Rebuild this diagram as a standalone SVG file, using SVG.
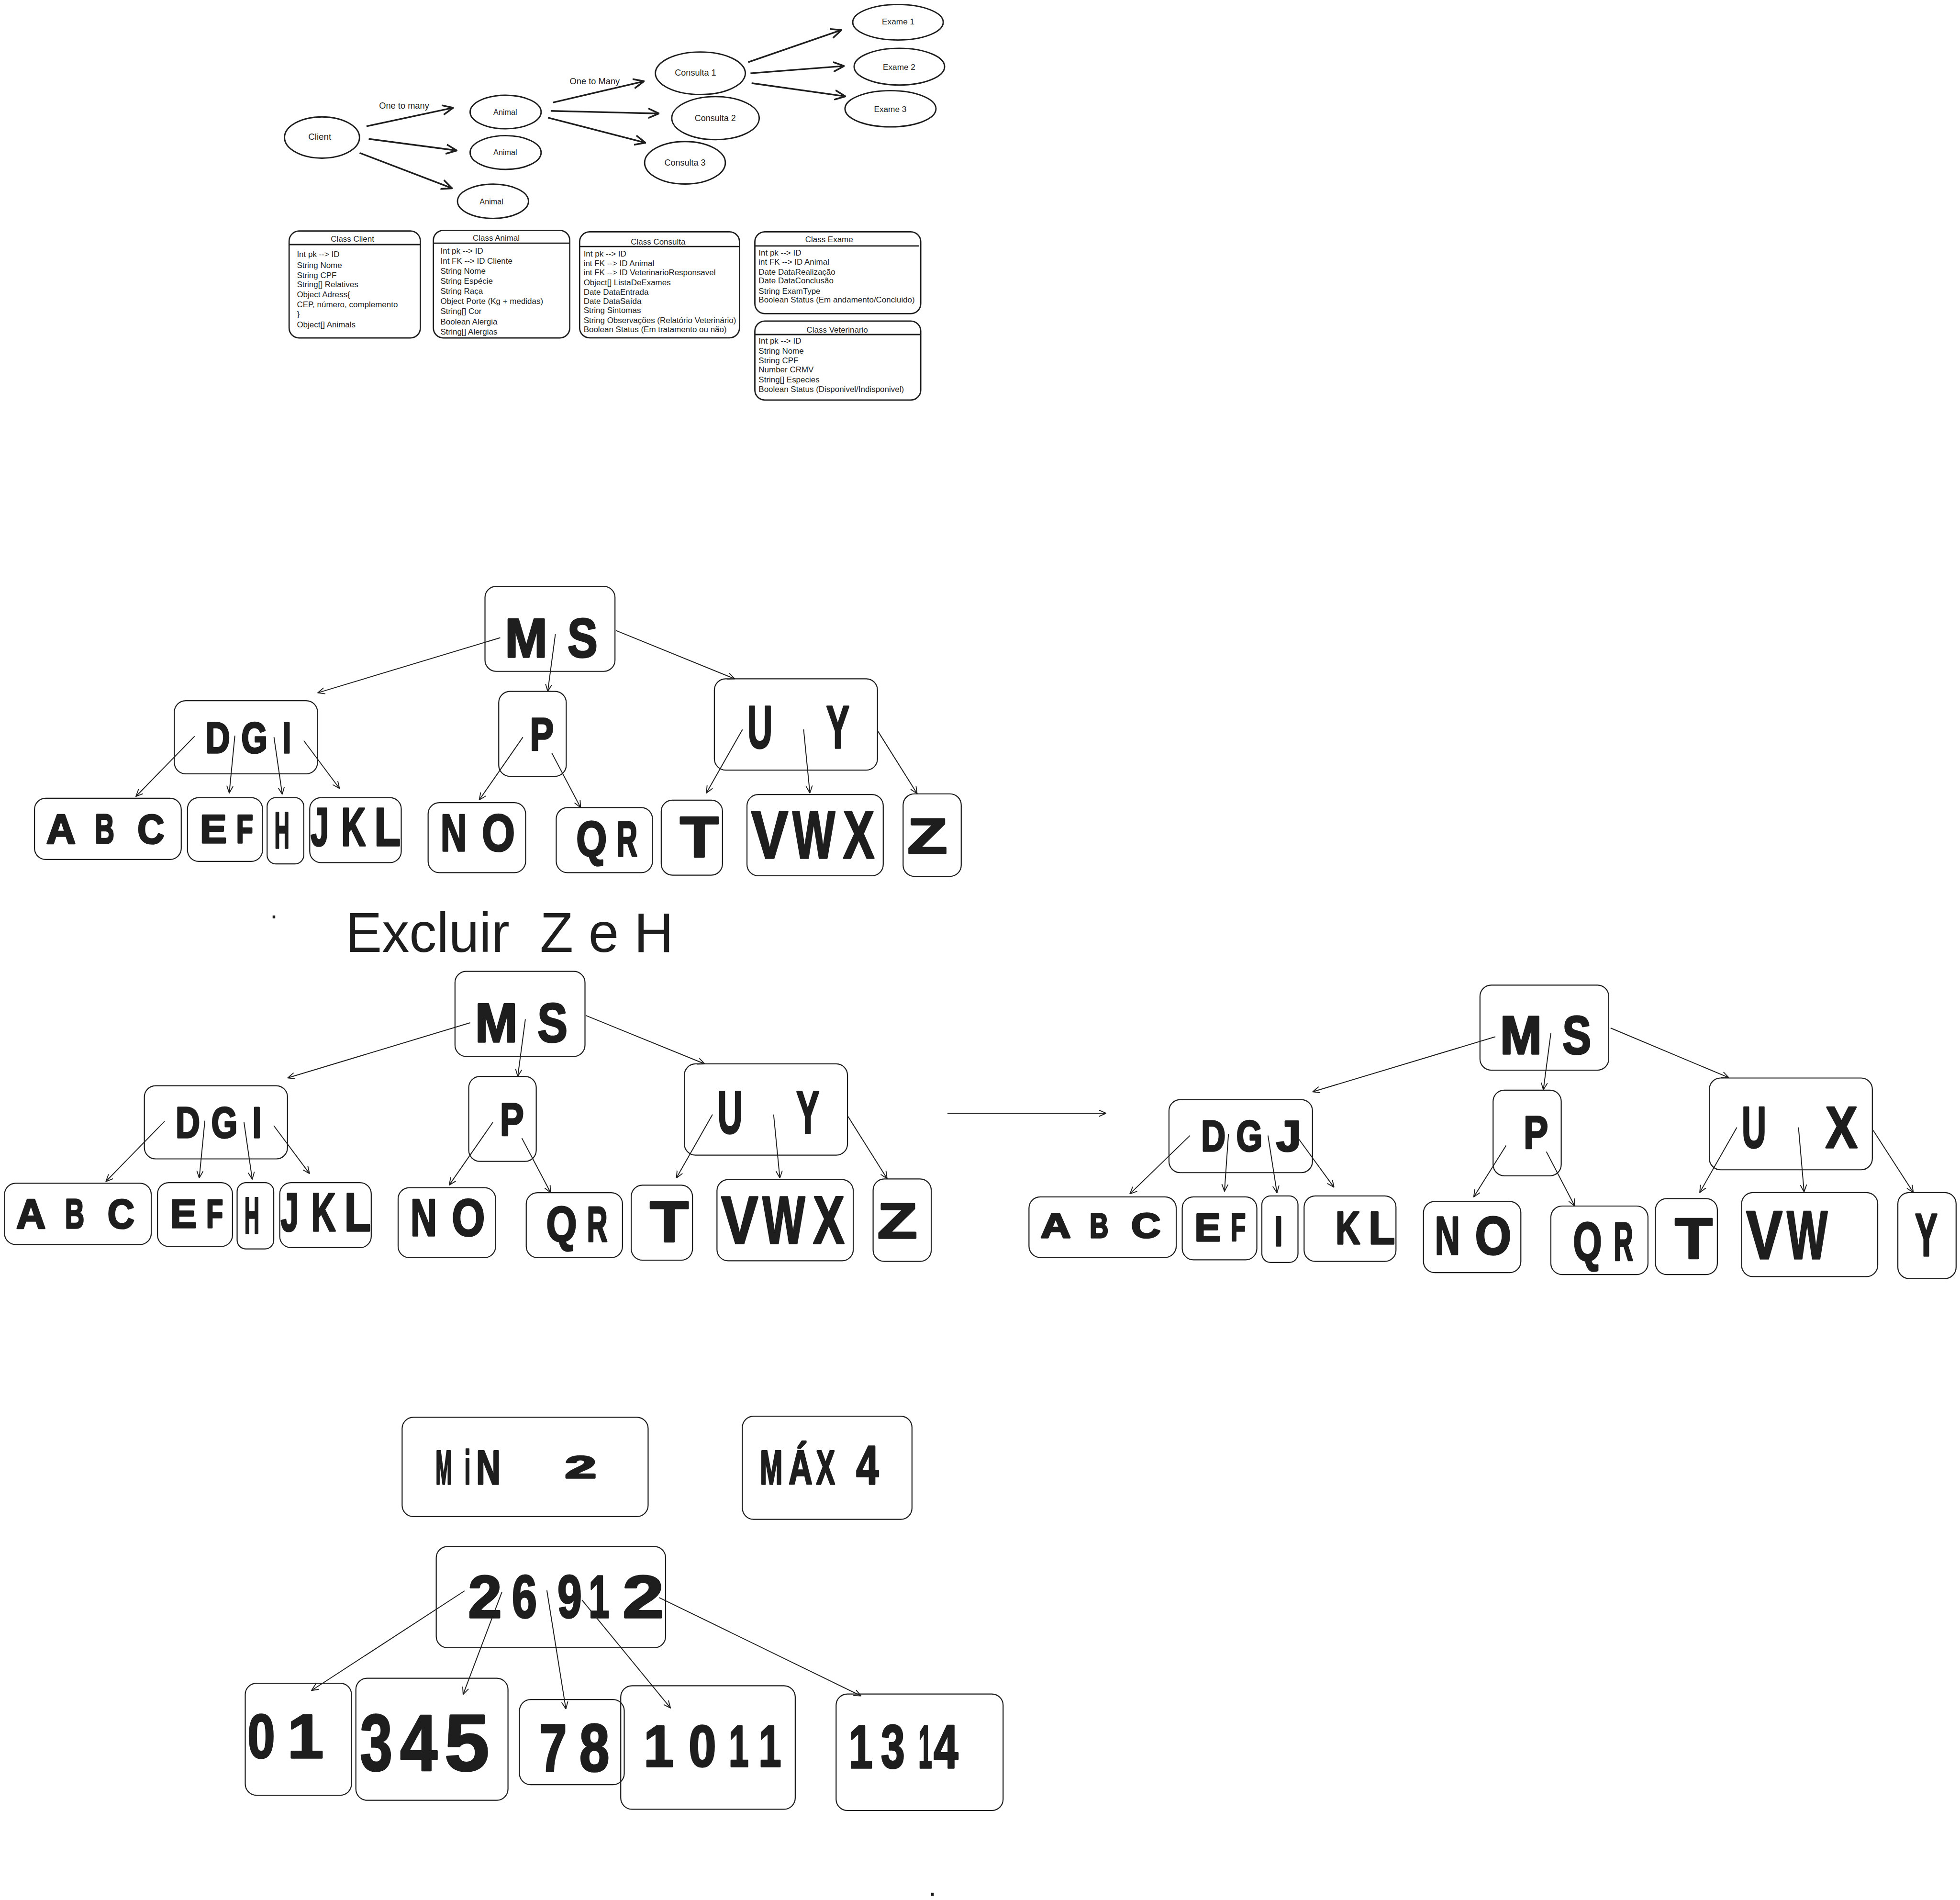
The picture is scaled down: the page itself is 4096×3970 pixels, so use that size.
<svg xmlns="http://www.w3.org/2000/svg" width="4096" height="3970" viewBox="0 0 4096 3970">
<style>
.box{fill:none;stroke:#1e1e1e;stroke-width:0.85}
.ell{fill:none;stroke:#1e1e1e;stroke-width:1.1}
.cbox{fill:none;stroke:#1e1e1e;stroke-width:1.05}
.hl{stroke:#1e1e1e;stroke-width:1.1}
.cn{fill:none;stroke:#1e1e1e;stroke-width:0.75;marker-end:url(#ah)}
.cnb{fill:none;stroke:#1e1e1e;stroke-width:1.3;marker-end:url(#ahb)}
.hw{font-family:'Liberation Sans',Arial,sans-serif;font-weight:700;fill:#1e1e1e;stroke:#1e1e1e;stroke-width:1.4;stroke-linejoin:round}
.ct{font-family:'Liberation Sans',Arial,sans-serif;font-size:6.5px;fill:#1e1e1e}
.tt{font-family:'Liberation Sans',Arial,sans-serif;font-size:6.5px;fill:#1e1e1e;text-anchor:middle}
.gl{font-family:'Liberation Sans',Arial,sans-serif;fill:#1e1e1e;text-anchor:middle}
</style>
<defs>
<marker id="ah" viewBox="0 0 10 10" refX="9.5" refY="5" markerWidth="6" markerHeight="6" orient="auto" markerUnits="userSpaceOnUse"><path d="M0.5,1 L9.5,5 L0.5,9" fill="none" stroke="#1e1e1e" stroke-width="1.2" stroke-linecap="round" stroke-linejoin="round"/></marker>
<marker id="ahb" viewBox="0 0 10 10" refX="9.5" refY="5" markerWidth="9" markerHeight="9" orient="auto" markerUnits="userSpaceOnUse"><path d="M0.5,1 L9.5,5 L0.5,9" fill="none" stroke="#1e1e1e" stroke-width="1.5" stroke-linecap="round" stroke-linejoin="round"/></marker>
</defs>
<rect width="4096" height="3970" fill="#ffffff"/>
<g transform="scale(2.6122)">

<!-- Top graph -->
<g id="top-connectors">
<line class="cnb" x1="293.2" y1="101" x2="362.6" y2="86.2"/>
<line class="cnb" x1="295" y1="111.1" x2="365.4" y2="120.4"/>
<line class="cnb" x1="287.7" y1="122.3" x2="361.7" y2="150.6"/>
<line class="cnb" x1="442.5" y1="82" x2="515.2" y2="65"/>
<line class="cnb" x1="440.6" y1="88.7" x2="527.2" y2="90.8"/>
<line class="cnb" x1="438.4" y1="94.1" x2="516.4" y2="114.2"/>
<line class="cnb" x1="598.6" y1="49.7" x2="673.2" y2="24"/>
<line class="cnb" x1="600.4" y1="58.6" x2="675.3" y2="52.8"/>
<line class="cnb" x1="601.3" y1="66.5" x2="676.4" y2="77.1"/>
<text class="gl" font-size="7" x="323.3" y="87">One to many</text>
<text class="gl" font-size="7" x="475.8" y="67.5">One to Many</text>
</g>
<g id="client"><ellipse class="ell" cx="257.6" cy="110" rx="30" ry="16.5"/><text class="gl" font-size="7.2" x="255.8" y="111.8">Client</text></g>
<g id="animal1"><ellipse class="ell" cx="404.5" cy="89.6" rx="28.4" ry="13.4"/><text class="gl" font-size="6.2" x="404.2" y="92">Animal</text></g>
<g id="animal2"><ellipse class="ell" cx="404.5" cy="122" rx="28.4" ry="13.5"/><text class="gl" font-size="6.2" x="404.2" y="124">Animal</text></g>
<g id="animal3"><ellipse class="ell" cx="394.4" cy="161" rx="28.4" ry="13.7"/><text class="gl" font-size="6.2" x="393.2" y="163.3">Animal</text></g>
<g id="consulta1"><ellipse class="ell" cx="560.3" cy="58.6" rx="36" ry="17"/><text class="gl" font-size="6.9" x="556.4" y="60.5">Consulta 1</text></g>
<g id="consulta2"><ellipse class="ell" cx="572.4" cy="94.5" rx="35" ry="17.2"/><text class="gl" font-size="6.9" x="572.2" y="97">Consulta 2</text></g>
<g id="consulta3"><ellipse class="ell" cx="548" cy="130.2" rx="32.3" ry="17"/><text class="gl" font-size="6.9" x="548" y="132.3">Consulta 3</text></g>
<g id="exame1"><ellipse class="ell" cx="718.4" cy="17.8" rx="36.2" ry="14.2"/><text class="gl" font-size="6.6" x="718.6" y="19.6">Exame 1</text></g>
<g id="exame2"><ellipse class="ell" cx="719.5" cy="53.3" rx="36.2" ry="14.7"/><text class="gl" font-size="6.6" x="719.3" y="55.8">Exame 2</text></g>
<g id="exame3"><ellipse class="ell" cx="712.4" cy="87" rx="36.4" ry="14.5"/><text class="gl" font-size="6.6" x="712.2" y="89.5">Exame 3</text></g>

<!-- Class boxes -->
<g id="class-client">
<rect class="cbox" x="231.3" y="184.8" width="105" height="85.5" rx="8"/>
<line class="hl" x1="231.3" y1="195.6" x2="336.3" y2="195.6"/>
<text class="tt" x="282" y="193.3">Class Client</text>
<text class="ct"><tspan x="237.5" y="205.6">Int pk --&gt; ID</tspan><tspan x="237.5" y="214.2">String Nome</tspan><tspan x="237.5" y="222.3">String CPF</tspan><tspan x="237.5" y="229.8">String[] Relatives</tspan><tspan x="237.5" y="237.9">Object Adress{</tspan><tspan x="237.5" y="245.9">CEP, número, complemento</tspan><tspan x="237.5" y="253.5">}</tspan><tspan x="237.5" y="262">Object[] Animals</tspan></text>
</g>
<g id="class-animal">
<rect class="cbox" x="346.7" y="184.3" width="109.1" height="86" rx="8"/>
<line class="hl" x1="346.7" y1="194.5" x2="455.8" y2="194.5"/>
<text class="tt" x="397" y="192.6">Class Animal</text>
<text class="ct"><tspan x="352.4" y="202.9">Int pk --&gt; ID</tspan><tspan x="352.4" y="211">Int FK --&gt; ID Cliente</tspan><tspan x="352.4" y="219.1">String Nome</tspan><tspan x="352.4" y="227.1">String Espécie</tspan><tspan x="352.4" y="235.2">String Raça</tspan><tspan x="352.4" y="243.2">Object Porte (Kg + medidas)</tspan><tspan x="352.4" y="251.3">String[] Cor</tspan><tspan x="352.4" y="259.4">Boolean Alergia</tspan><tspan x="352.4" y="267.4">String[] Alergias</tspan></text>
</g>
<g id="class-consulta">
<rect class="cbox" x="463.7" y="185.4" width="127.9" height="84.8" rx="8"/>
<line class="hl" x1="463.7" y1="197.2" x2="591.6" y2="197.2"/>
<text class="tt" x="526.5" y="195.6">Class Consulta</text>
<text class="ct"><tspan x="466.9" y="205.3">Int pk --&gt; ID</tspan><tspan x="466.9" y="212.8">int FK --&gt; ID Animal</tspan><tspan x="466.9" y="220.3">int FK --&gt; ID VeterinarioResponsavel</tspan><tspan x="466.9" y="228.2">Object[] ListaDeExames</tspan><tspan x="466.9" y="235.7">Date DataEntrada</tspan><tspan x="466.9" y="243.2">Date DataSaída</tspan><tspan x="466.9" y="250.4">String Sintomas</tspan><tspan x="466.9" y="258.3">String Observações (Relatório Veterinário)</tspan><tspan x="466.9" y="265.8">Boolean Status (Em tratamento ou não)</tspan></text>
</g>
<g id="class-exame">
<rect class="cbox" x="603.9" y="185.4" width="132.7" height="65.5" rx="8"/>
<line class="hl" x1="603.9" y1="196.7" x2="735" y2="196.7"/>
<text class="tt" x="663.3" y="193.8">Class Exame</text>
<text class="ct"><tspan x="606.9" y="204.6">Int pk --&gt; ID</tspan><tspan x="606.9" y="211.8">int FK --&gt; ID Animal</tspan><tspan x="606.9" y="219.6">Date DataRealização</tspan><tspan x="606.9" y="226.8">Date DataConclusão</tspan><tspan x="606.9" y="235">String ExamType</tspan><tspan x="606.9" y="241.8">Boolean Status (Em andamento/Concluido)</tspan></text>
</g>
<g id="class-veterinario">
<rect class="cbox" x="603.9" y="256.8" width="132.7" height="63.2" rx="8"/>
<line class="hl" x1="603.9" y1="267.6" x2="736.6" y2="267.6"/>
<text class="tt" x="669.8" y="266">Class Veterinario</text>
<text class="ct"><tspan x="606.9" y="275">Int pk --&gt; ID</tspan><tspan x="606.9" y="283">String Nome</tspan><tspan x="606.9" y="290.5">String CPF</tspan><tspan x="606.9" y="298">Number CRMV</tspan><tspan x="606.9" y="306">String[] Especies</tspan><tspan x="606.9" y="313.6">Boolean Status (Disponivel/Indisponivel)</tspan></text>
</g>

<!-- Tree 1 -->
<g id="tree1">
<g id="t1-connectors">
<line class="cn" x1="400.2" y1="510.1" x2="254.2" y2="554.2"/>
<line class="cn" x1="444.3" y1="507.3" x2="438.2" y2="553"/>
<line class="cn" x1="492.7" y1="504.3" x2="587.8" y2="543"/>
<line class="cn" x1="155.7" y1="588.9" x2="108.7" y2="637.1"/>
<line class="cn" x1="187.9" y1="588.4" x2="183.4" y2="634.3"/>
<line class="cn" x1="219.2" y1="589.7" x2="225.8" y2="635.3"/>
<line class="cn" x1="243" y1="592.4" x2="271.6" y2="630.7"/>
<line class="cn" x1="418.3" y1="589.7" x2="383.4" y2="639.9"/>
<line class="cn" x1="441.5" y1="602.4" x2="464.5" y2="646"/>
<line class="cn" x1="594" y1="583.5" x2="565.1" y2="634.3"/>
<line class="cn" x1="642.9" y1="583.5" x2="647.9" y2="634.3"/>
<line class="cn" x1="702.4" y1="585" x2="733.7" y2="634.8"/>
</g>
<g id="t1-ms"><rect class="box" x="388" y="469" width="104" height="68" rx="9"/><text class="hw" font-size="44" transform="translate(404 525.5) scale(0.928 1)">M</text><text class="hw" font-size="44" transform="translate(454 525.5) scale(0.818 1)">S</text></g>
<g id="t1-dgi"><rect class="box" x="139.5" y="560.5" width="114.5" height="58.5" rx="9"/><text class="hw" font-size="35" transform="translate(164.5 602) scale(0.772 1)">D</text><text class="hw" font-size="35" transform="translate(193 602) scale(0.771 1)">G</text><text class="hw" font-size="35" transform="translate(226 602) scale(0.72 1)">I</text></g>
<g id="t1-p"><rect class="box" x="399" y="553" width="54" height="68" rx="9"/><text class="hw" font-size="37" transform="translate(424 600) scale(0.77 1)">P</text></g>
<g id="t1-uy"><rect class="box" x="571.5" y="543" width="130.5" height="73" rx="9"/><text class="hw" font-size="48" transform="translate(598 598.5) scale(0.577 1)">U</text><text class="hw" font-size="48" transform="translate(661 598.5) scale(0.578 1)">Y</text></g>
<g id="t1-abc"><rect class="box" x="27.6" y="638.5" width="117.4" height="49" rx="9"/><text class="hw" font-size="33" transform="translate(37 674.5) scale(0.986 1)">A</text><text class="hw" font-size="33" transform="translate(76 674.5) scale(0.65 1)">B</text><text class="hw" font-size="33" transform="translate(110 674.5) scale(0.902 1)">C</text></g>
<g id="t1-ef"><rect class="box" x="150" y="638" width="60" height="51" rx="9"/><text class="hw" font-size="32" transform="translate(160 674) scale(1 1)">E</text><text class="hw" font-size="32" transform="translate(189 674) scale(0.69 1)">F</text></g>
<g id="t1-h"><rect class="box" x="213.7" y="638" width="29.3" height="53" rx="7"/><text class="hw" font-size="41" transform="translate(219.5 678.5) scale(0.405 1)">H</text></g>
<g id="t1-jkl"><rect class="box" x="247.8" y="638" width="73.2" height="52" rx="9"/><text class="hw" font-size="43" transform="translate(248.5 676.5) scale(0.607 1)">J</text><text class="hw" font-size="43" transform="translate(273 676.5) scale(0.628 1)">K</text><text class="hw" font-size="43" transform="translate(299.5 676.5) scale(0.8 1)">L</text></g>
<g id="t1-no"><rect class="box" x="342.5" y="642" width="78" height="56" rx="9"/><text class="hw" font-size="42" transform="translate(352.5 680.5) scale(0.693 1)">N</text><text class="hw" font-size="42" transform="translate(385.5 680.5) scale(0.81 1)">O</text></g>
<g id="t1-qr"><rect class="box" x="445" y="646" width="77" height="52" rx="9"/><text class="hw" font-size="40" transform="translate(461 685) scale(0.788 1)">Q</text><text class="hw" font-size="40" transform="translate(493.5 685) scale(0.571 1)">R</text></g>
<g id="t1-t"><rect class="box" x="529" y="640" width="49" height="60" rx="9"/><text class="hw" font-size="46" transform="translate(544 685.5) scale(1.1 1)">T</text></g>
<g id="t1-vwx"><rect class="box" x="597.6" y="635.5" width="109" height="65" rx="9"/><text class="hw" font-size="54" transform="translate(601 686.5) scale(0.819 1)">V</text><text class="hw" font-size="54" transform="translate(634 686.5) scale(0.667 1)">W</text><text class="hw" font-size="54" transform="translate(674.5 686.5) scale(0.694 1)">X</text></g>
<g id="t1-z"><rect class="box" x="722.5" y="635" width="46.5" height="66" rx="9"/><text class="hw" font-size="40" transform="translate(726 682.5) scale(1.3 1)">Z</text></g>
</g>

<text class="gl" font-size="22" x="219.2" y="734.7">.</text>
<text font-family="'Liberation Sans',Arial,sans-serif" font-size="45" fill="#1e1e1e" x="276.4" y="761.3" xml:space="preserve" textLength="262.4" lengthAdjust="spacingAndGlyphs">Excluir  Z e H</text>

<!-- Tree 2 (same as tree 1, moved) -->
<g id="tree2" transform="translate(-24,308)">
<g id="t2-connectors">
<line class="cn" x1="400.2" y1="510.1" x2="254.2" y2="554.2"/>
<line class="cn" x1="444.3" y1="507.3" x2="438.2" y2="553"/>
<line class="cn" x1="492.7" y1="504.3" x2="587.8" y2="543"/>
<line class="cn" x1="155.7" y1="588.9" x2="108.7" y2="637.1"/>
<line class="cn" x1="187.9" y1="588.4" x2="183.4" y2="634.3"/>
<line class="cn" x1="219.2" y1="589.7" x2="225.8" y2="635.3"/>
<line class="cn" x1="243" y1="592.4" x2="271.6" y2="630.7"/>
<line class="cn" x1="418.3" y1="589.7" x2="383.4" y2="639.9"/>
<line class="cn" x1="441.5" y1="602.4" x2="464.5" y2="646"/>
<line class="cn" x1="594" y1="583.5" x2="565.1" y2="634.3"/>
<line class="cn" x1="642.9" y1="583.5" x2="647.9" y2="634.3"/>
<line class="cn" x1="702.4" y1="585" x2="733.7" y2="634.8"/>
</g>
<g id="t2-ms"><rect class="box" x="388" y="469" width="104" height="68" rx="9"/><text class="hw" font-size="44" transform="translate(404 525.5) scale(0.928 1)">M</text><text class="hw" font-size="44" transform="translate(454 525.5) scale(0.818 1)">S</text></g>
<g id="t2-dgi"><rect class="box" x="139.5" y="560.5" width="114.5" height="58.5" rx="9"/><text class="hw" font-size="35" transform="translate(164.5 602) scale(0.772 1)">D</text><text class="hw" font-size="35" transform="translate(193 602) scale(0.771 1)">G</text><text class="hw" font-size="35" transform="translate(226 602) scale(0.72 1)">I</text></g>
<g id="t2-p"><rect class="box" x="399" y="553" width="54" height="68" rx="9"/><text class="hw" font-size="37" transform="translate(424 600) scale(0.77 1)">P</text></g>
<g id="t2-uy"><rect class="box" x="571.5" y="543" width="130.5" height="73" rx="9"/><text class="hw" font-size="48" transform="translate(598 598.5) scale(0.577 1)">U</text><text class="hw" font-size="48" transform="translate(661 598.5) scale(0.578 1)">Y</text></g>
<g id="t2-abc"><rect class="box" x="27.6" y="638.5" width="117.4" height="49" rx="9"/><text class="hw" font-size="33" transform="translate(37 674.5) scale(0.986 1)">A</text><text class="hw" font-size="33" transform="translate(76 674.5) scale(0.65 1)">B</text><text class="hw" font-size="33" transform="translate(110 674.5) scale(0.902 1)">C</text></g>
<g id="t2-ef"><rect class="box" x="150" y="638" width="60" height="51" rx="9"/><text class="hw" font-size="32" transform="translate(160 674) scale(1 1)">E</text><text class="hw" font-size="32" transform="translate(189 674) scale(0.69 1)">F</text></g>
<g id="t2-h"><rect class="box" x="213.7" y="638" width="29.3" height="53" rx="7"/><text class="hw" font-size="41" transform="translate(219.5 678.5) scale(0.405 1)">H</text></g>
<g id="t2-jkl"><rect class="box" x="247.8" y="638" width="73.2" height="52" rx="9"/><text class="hw" font-size="43" transform="translate(248.5 676.5) scale(0.607 1)">J</text><text class="hw" font-size="43" transform="translate(273 676.5) scale(0.628 1)">K</text><text class="hw" font-size="43" transform="translate(299.5 676.5) scale(0.8 1)">L</text></g>
<g id="t2-no"><rect class="box" x="342.5" y="642" width="78" height="56" rx="9"/><text class="hw" font-size="42" transform="translate(352.5 680.5) scale(0.693 1)">N</text><text class="hw" font-size="42" transform="translate(385.5 680.5) scale(0.81 1)">O</text></g>
<g id="t2-qr"><rect class="box" x="445" y="646" width="77" height="52" rx="9"/><text class="hw" font-size="40" transform="translate(461 685) scale(0.788 1)">Q</text><text class="hw" font-size="40" transform="translate(493.5 685) scale(0.571 1)">R</text></g>
<g id="t2-t"><rect class="box" x="529" y="640" width="49" height="60" rx="9"/><text class="hw" font-size="46" transform="translate(544 685.5) scale(1.1 1)">T</text></g>
<g id="t2-vwx"><rect class="box" x="597.6" y="635.5" width="109" height="65" rx="9"/><text class="hw" font-size="54" transform="translate(601 686.5) scale(0.819 1)">V</text><text class="hw" font-size="54" transform="translate(634 686.5) scale(0.667 1)">W</text><text class="hw" font-size="54" transform="translate(674.5 686.5) scale(0.694 1)">X</text></g>
<g id="t2-z"><rect class="box" x="722.5" y="635" width="46.5" height="66" rx="9"/><text class="hw" font-size="40" transform="translate(726 682.5) scale(1.3 1)">Z</text></g>
</g>

<g id="step-arrow"><line class="cn" x1="758" y1="890.5" x2="884.9" y2="890.5"/></g>

<!-- Tree 3 -->
<g id="tree3">
<g id="t3-connectors">
<line class="cn" x1="1196.3" y1="829.3" x2="1050.2" y2="873.3"/>
<line class="cn" x1="1240.7" y1="826.5" x2="1234.7" y2="871.7"/>
<line class="cn" x1="1288.5" y1="822.3" x2="1383" y2="862"/>
<line class="cn" x1="952" y1="908.3" x2="903.9" y2="955"/>
<line class="cn" x1="982.8" y1="907" x2="979.6" y2="952.9"/>
<line class="cn" x1="1014.4" y1="908.3" x2="1021.6" y2="954.2"/>
<line class="cn" x1="1039.1" y1="911.2" x2="1067.2" y2="949.7"/>
<line class="cn" x1="1204.9" y1="916.3" x2="1179" y2="957.4"/>
<line class="cn" x1="1237.1" y1="921.2" x2="1259.8" y2="964.7"/>
<line class="cn" x1="1389.5" y1="901.8" x2="1359.8" y2="953.9"/>
<line class="cn" x1="1438.8" y1="901.8" x2="1443.3" y2="953.4"/>
<line class="cn" x1="1498.6" y1="904.2" x2="1530.7" y2="953.9"/>
</g>
<g id="t3-ms"><rect class="box" x="1184" y="788" width="103" height="68" rx="9"/><text class="hw" font-size="43" transform="translate(1200 843) scale(0.935 1)">M</text><text class="hw" font-size="43" transform="translate(1250 843) scale(0.8 1)">S</text></g>
<g id="t3-dgj"><rect class="box" x="935.2" y="879.6" width="114.8" height="58.4" rx="9"/><text class="hw" font-size="35" transform="translate(961 920.5) scale(0.772 1)">D</text><text class="hw" font-size="35" transform="translate(989 920.5) scale(0.771 1)">G</text><text class="hw" font-size="35" transform="translate(1021 920.5) scale(1.03 1)">J</text></g>
<g id="t3-p"><rect class="box" x="1194.5" y="872" width="54.5" height="68.5" rx="9"/><text class="hw" font-size="37" transform="translate(1219 918.3) scale(0.79 1)">P</text></g>
<g id="t3-ux"><rect class="box" x="1367.5" y="862.3" width="130.4" height="73.4" rx="9"/><text class="hw" font-size="47" transform="translate(1393.5 918) scale(0.575 1)">U</text><text class="hw" font-size="47" transform="translate(1460.5 918) scale(0.814 1)">X</text></g>
<g id="t3-abc"><rect class="box" x="823.2" y="957.4" width="117.8" height="48.4" rx="9"/><text class="hw" font-size="28" transform="translate(832.5 990) scale(1.19 1)">A</text><text class="hw" font-size="28" transform="translate(871.8 990) scale(0.74 1)">B</text><text class="hw" font-size="28" transform="translate(905 990) scale(1.16 1)">C</text></g>
<g id="t3-ef"><rect class="box" x="945.8" y="957.4" width="59.7" height="50.3" rx="9"/><text class="hw" font-size="31" transform="translate(955.7 992.5) scale(1.01 1)">E</text><text class="hw" font-size="31" transform="translate(984.6 992.5) scale(0.63 1)">F</text></g>
<g id="t3-i"><rect class="box" x="1009.5" y="956.6" width="28.9" height="53.2" rx="7"/><text class="hw" font-size="33" transform="translate(1019.5 996.5) scale(0.71 1)">I</text></g>
<g id="t3-kl"><rect class="box" x="1043.3" y="956.6" width="73.5" height="52.4" rx="9"/><text class="hw" font-size="37" transform="translate(1068.5 994.8) scale(0.73 1)">K</text><text class="hw" font-size="37" transform="translate(1095 994.8) scale(0.93 1)">L</text></g>
<g id="t3-no"><rect class="box" x="1138.8" y="961" width="77.9" height="57" rx="9"/><text class="hw" font-size="43" transform="translate(1148 1003.5) scale(0.644 1)">N</text><text class="hw" font-size="43" transform="translate(1180 1003.5) scale(0.867 1)">O</text></g>
<g id="t3-qr"><rect class="box" x="1240.7" y="964.7" width="77.7" height="54.8" rx="9"/><text class="hw" font-size="43" transform="translate(1258.5 1008.5) scale(0.688 1)">Q</text><text class="hw" font-size="43" transform="translate(1291 1008.5) scale(0.5 1)">R</text></g>
<g id="t3-t"><rect class="box" x="1324.4" y="958.7" width="49.5" height="60.8" rx="9"/><text class="hw" font-size="46" transform="translate(1340 1006.8) scale(1.07 1)">T</text></g>
<g id="t3-vw"><rect class="box" x="1393.3" y="953.9" width="108.9" height="67.2" rx="9"/><text class="hw" font-size="55" transform="translate(1397 1006.8) scale(0.79 1)">V</text><text class="hw" font-size="55" transform="translate(1429.5 1006.8) scale(0.626 1)">W</text></g>
<g id="t3-y"><rect class="box" x="1518.3" y="953.9" width="46.6" height="68.8" rx="9"/><text class="hw" font-size="48" transform="translate(1532 1004.5) scale(0.5625 1)">Y</text></g>
</g>

<!-- Bottom -->
<g id="min-box"><rect class="box" x="321.7" y="1133.7" width="196.8" height="79.4" rx="9"/><text class="hw" font-size="38" transform="translate(348.5 1187) scale(0.41 1)">M</text><text class="hw" font-size="38" transform="translate(371.5 1187) scale(0.47 1)">i</text><text class="hw" font-size="38" transform="translate(381 1187) scale(0.71 1)">N</text><text class="hw" font-size="25" transform="translate(452 1182) scale(1.8 1)">2</text></g>
<g id="max-box"><rect class="box" x="593.9" y="1132.8" width="135.7" height="82.5" rx="9"/><text class="hw" font-size="38" transform="translate(608 1187) scale(0.57 1)">M</text><text class="hw" font-size="38" transform="translate(631 1187) scale(0.69 1)">Á</text><text class="hw" font-size="38" transform="translate(653 1187) scale(0.59 1)">X</text><text class="hw" font-size="44" transform="translate(685 1187) scale(0.735 1)">4</text></g>

<g id="num-connectors">
<line class="cn" x1="371.7" y1="1272.5" x2="249.2" y2="1352.2"/>
<line class="cn" x1="401.6" y1="1273.3" x2="370.5" y2="1355.3"/>
<line class="cn" x1="437.5" y1="1272.1" x2="452.7" y2="1366.9"/>
<line class="cn" x1="465.5" y1="1279.7" x2="536.4" y2="1366.2"/>
<line class="cn" x1="527.3" y1="1277.9" x2="688.8" y2="1356.5"/>
</g>
<g id="n-root"><rect class="box" x="349" y="1237" width="183.5" height="81" rx="9"/><text class="hw" font-size="48" transform="translate(374.5 1294) scale(1.01 1)">2</text><text class="hw" font-size="48" transform="translate(409.5 1294) scale(0.75 1)">6</text><text class="hw" font-size="48" transform="translate(446 1294) scale(0.73 1)">9</text><text class="hw" font-size="48" transform="translate(471 1294) scale(0.62 1)">1</text><text class="hw" font-size="48" transform="translate(498 1294) scale(1.24 1)">2</text></g>
<g id="n-01"><rect class="box" x="196.2" y="1346.4" width="85" height="89.6" rx="9"/><text class="hw" font-size="50" transform="translate(198 1406) scale(0.79 1)">0</text><text class="hw" font-size="50" transform="translate(230 1406) scale(1.04 1)">1</text></g>
<g id="n-345"><rect class="box" x="284.7" y="1342.4" width="121.7" height="97.6" rx="9"/><text class="hw" font-size="64" transform="translate(288 1416) scale(0.73 1)">3</text><text class="hw" font-size="64" transform="translate(320 1416) scale(0.84 1)">4</text><text class="hw" font-size="64" transform="translate(355.5 1416) scale(1.01 1)">5</text></g>
<g id="n-78"><rect class="box" x="415.6" y="1359.4" width="83.8" height="68.2" rx="9"/><text class="hw" font-size="54" transform="translate(431.5 1417) scale(0.73 1)">7</text><text class="hw" font-size="54" transform="translate(463.5 1417) scale(0.8 1)">8</text></g>
<g id="n-1011"><rect class="box" x="496.6" y="1348.4" width="139.6" height="98.8" rx="9"/><text class="hw" font-size="47" transform="translate(515 1413) scale(0.92 1)">1</text><text class="hw" font-size="47" transform="translate(551 1413) scale(0.84 1)">0</text><text class="hw" font-size="47" transform="translate(583 1413) scale(0.61 1)">1</text><text class="hw" font-size="47" transform="translate(607 1413) scale(0.69 1)">1</text></g>
<g id="n-1314"><rect class="box" x="668.9" y="1355" width="133.6" height="93.2" rx="9"/><text class="hw" font-size="49" transform="translate(679 1414) scale(0.7 1)">1</text><text class="hw" font-size="49" transform="translate(704.8 1414) scale(0.7 1)">3</text><text class="hw" font-size="49" transform="translate(734.7 1414) scale(0.4 1)">1</text><text class="hw" font-size="49" transform="translate(747 1414) scale(0.72 1)">4</text></g>

<text class="gl" font-size="22" x="746" y="1516.5">.</text>
</g>
</svg>
